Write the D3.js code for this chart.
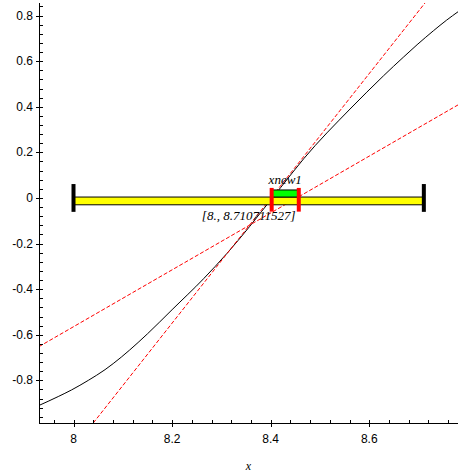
<!DOCTYPE html>
<html><head><meta charset="utf-8">
<script src="https://cdn.jsdelivr.net/npm/d3@7"></script>
<style>body{margin:0;background:#fff}</style>
</head><body>
<script>
// ---- data ----
const curveX = [7.928, 7.969, 7.996, 8.030, 8.064, 8.097, 8.131, 8.150, 8.200, 8.264, 8.311, 8.357, 8.382, 8.420, 8.467, 8.561, 8.595, 8.629, 8.669, 8.697, 8.730, 8.757, 8.781];
const curveY = [-0.912, -0.871, -0.842, -0.800, -0.753, -0.698, -0.634, -0.596, -0.490, -0.354, -0.244, -0.126, -0.058, 0.045, 0.172, 0.390, 0.464, 0.536, 0.617, 0.672, 0.733, 0.780, 0.818];
const steepX = [8.040, 8.713], steepY = [-0.987, 0.855];
const shallowX = [7.930, 8.780], shallowY = [-0.652, 0.408];
const interval = [8, 8.710711527];
const intervalBarY = [-0.030, 0.004];
const capY = [-0.061, 0.061];
const xnew = [8.402, 8.457];
const xnewBarY = [0.004, 0.035];
const xnewCapY = [-0.060, 0.044];
const intervalLabel = "[8., 8.710711527]";
const xnewLabel = "xnew1";
const xTicks = [8, 8.2, 8.4, 8.6];
const xTickLabels = ["8", "8.2", "8.4", "8.6"];
const yTicks = [-0.8, -0.6, -0.4, -0.2, 0, 0.2, 0.4, 0.6, 0.8];
const yTickLabels = ["-0.8", "-0.6", "-0.4", "-0.2", "0", "0.2", "0.4", "0.6", "0.8"];
const xMinor = d3.range(-1, 20).map(i => 8 + i * 0.04);
const yMinor = d3.range(-24, 22).map(i => i * 0.04);
const xDomain = [7.93, 8.78], yDomain = [-0.987, 0.855];

// ---- chart ----
const W = 474, H = 474;
const svg = d3.select("body").append("svg").attr("width", W).attr("height", H);
const x = d3.scaleLinear().domain(xDomain).range([39, 458]);
const y = d3.scaleLinear().domain(yDomain).range([423, 3]);

svg.append("clipPath").attr("id", "clip").append("rect")
  .attr("x", 39).attr("y", 3).attr("width", 419).attr("height", 420);
const g = svg.append("g").attr("clip-path", "url(#clip)");

// curve
g.append("path").datum(d3.zip(curveX, curveY))
  .attr("d", d3.line().x(d => x(d[0])).y(d => y(d[1])).curve(d3.curveMonotoneX))
  .attr("fill", "none").attr("stroke", "#000").attr("stroke-width", 1);

// tangent lines
[[steepX, steepY], [shallowX, shallowY]].forEach(([lx, ly]) => {
  g.append("path").datum(d3.zip(lx, ly))
    .attr("d", d3.line().x(d => x(d[0])).y(d => y(d[1])))
    .attr("fill", "none").attr("stroke", "#ff0000").attr("stroke-width", 1)
    .attr("stroke-dasharray", "4,2");
});

// interval bar
svg.append("rect")
  .attr("x", x(interval[0])).attr("y", y(intervalBarY[1]))
  .attr("width", x(interval[1]) - x(interval[0]))
  .attr("height", y(intervalBarY[0]) - y(intervalBarY[1]))
  .attr("fill", "#ffff00").attr("stroke", "#000").attr("stroke-width", 1);
interval.forEach(v => {
  svg.append("line").attr("x1", x(v)).attr("x2", x(v))
    .attr("y1", y(capY[0])).attr("y2", y(capY[1]))
    .attr("stroke", "#000").attr("stroke-width", 4);
});

// xnew bar
svg.append("rect")
  .attr("x", x(xnew[0])).attr("y", y(xnewBarY[1]))
  .attr("width", x(xnew[1]) - x(xnew[0]))
  .attr("height", y(xnewBarY[0]) - y(xnewBarY[1]))
  .attr("fill", "#00ff00").attr("stroke", "#000").attr("stroke-width", 1);
xnew.forEach(v => {
  svg.append("line").attr("x1", x(v)).attr("x2", x(v))
    .attr("y1", y(xnewCapY[0])).attr("y2", y(xnewCapY[1]))
    .attr("stroke", "#ff0000").attr("stroke-width", 4);
});

// labels
svg.append("text").attr("x", x((interval[0] + interval[1]) / 2)).attr("y", y(capY[0]) + 8)
  .attr("text-anchor", "middle").attr("font-family", "Liberation Serif").attr("font-style", "italic")
  .attr("font-size", 13).text(intervalLabel);
svg.append("text").attr("x", x((xnew[0] + xnew[1]) / 2)).attr("y", y(xnewCapY[1]) - 4)
  .attr("text-anchor", "middle").attr("font-family", "Liberation Serif").attr("font-style", "italic")
  .attr("font-size", 13).text(xnewLabel);

// axes
const axes = svg.append("g").attr("stroke", "#000").attr("stroke-width", 1).attr("shape-rendering", "crispEdges");
axes.append("line").attr("x1", 39.5).attr("x2", 39.5).attr("y1", 3).attr("y2", 423.5);
axes.append("line").attr("x1", 39).attr("x2", 458).attr("y1", 423.5).attr("y2", 423.5);
xMinor.filter(v => v >= xDomain[0] && v <= xDomain[1]).forEach(v => {
  axes.append("line").attr("x1", Math.round(x(v)) + 0.5).attr("x2", Math.round(x(v)) + 0.5)
    .attr("y1", 420).attr("y2", 423.5);
});
yMinor.filter(v => v >= yDomain[0] && v <= yDomain[1]).forEach(v => {
  axes.append("line").attr("x1", 39.5).attr("x2", 43).attr("y1", Math.round(y(v)) + 0.5).attr("y2", Math.round(y(v)) + 0.5);
});
xTicks.forEach(v => {
  axes.append("line").attr("x1", Math.round(x(v)) + 0.5).attr("x2", Math.round(x(v)) + 0.5)
    .attr("y1", 423.5).attr("y2", 427);
});
yTicks.forEach(v => {
  axes.append("line").attr("x1", 36).attr("x2", 39.5).attr("y1", Math.round(y(v)) + 0.5).attr("y2", Math.round(y(v)) + 0.5);
});
const lab = svg.append("g").attr("font-family", "Liberation Sans").attr("font-size", 12).attr("fill", "#000");
xTicks.forEach((v, i) => {
  lab.append("text").attr("x", x(v)).attr("y", 443).attr("text-anchor", "middle").text(xTickLabels[i]);
});
yTicks.forEach((v, i) => {
  lab.append("text").attr("x", 33).attr("y", y(v) + 4).attr("text-anchor", "end").text(yTickLabels[i]);
});
svg.append("text").attr("x", (x.range()[0] + x.range()[1]) / 2).attr("y", 470)
  .attr("text-anchor", "middle").attr("font-family", "Liberation Serif").attr("font-style", "italic")
  .attr("font-size", 12).text("x");
</script>
</body></html>
